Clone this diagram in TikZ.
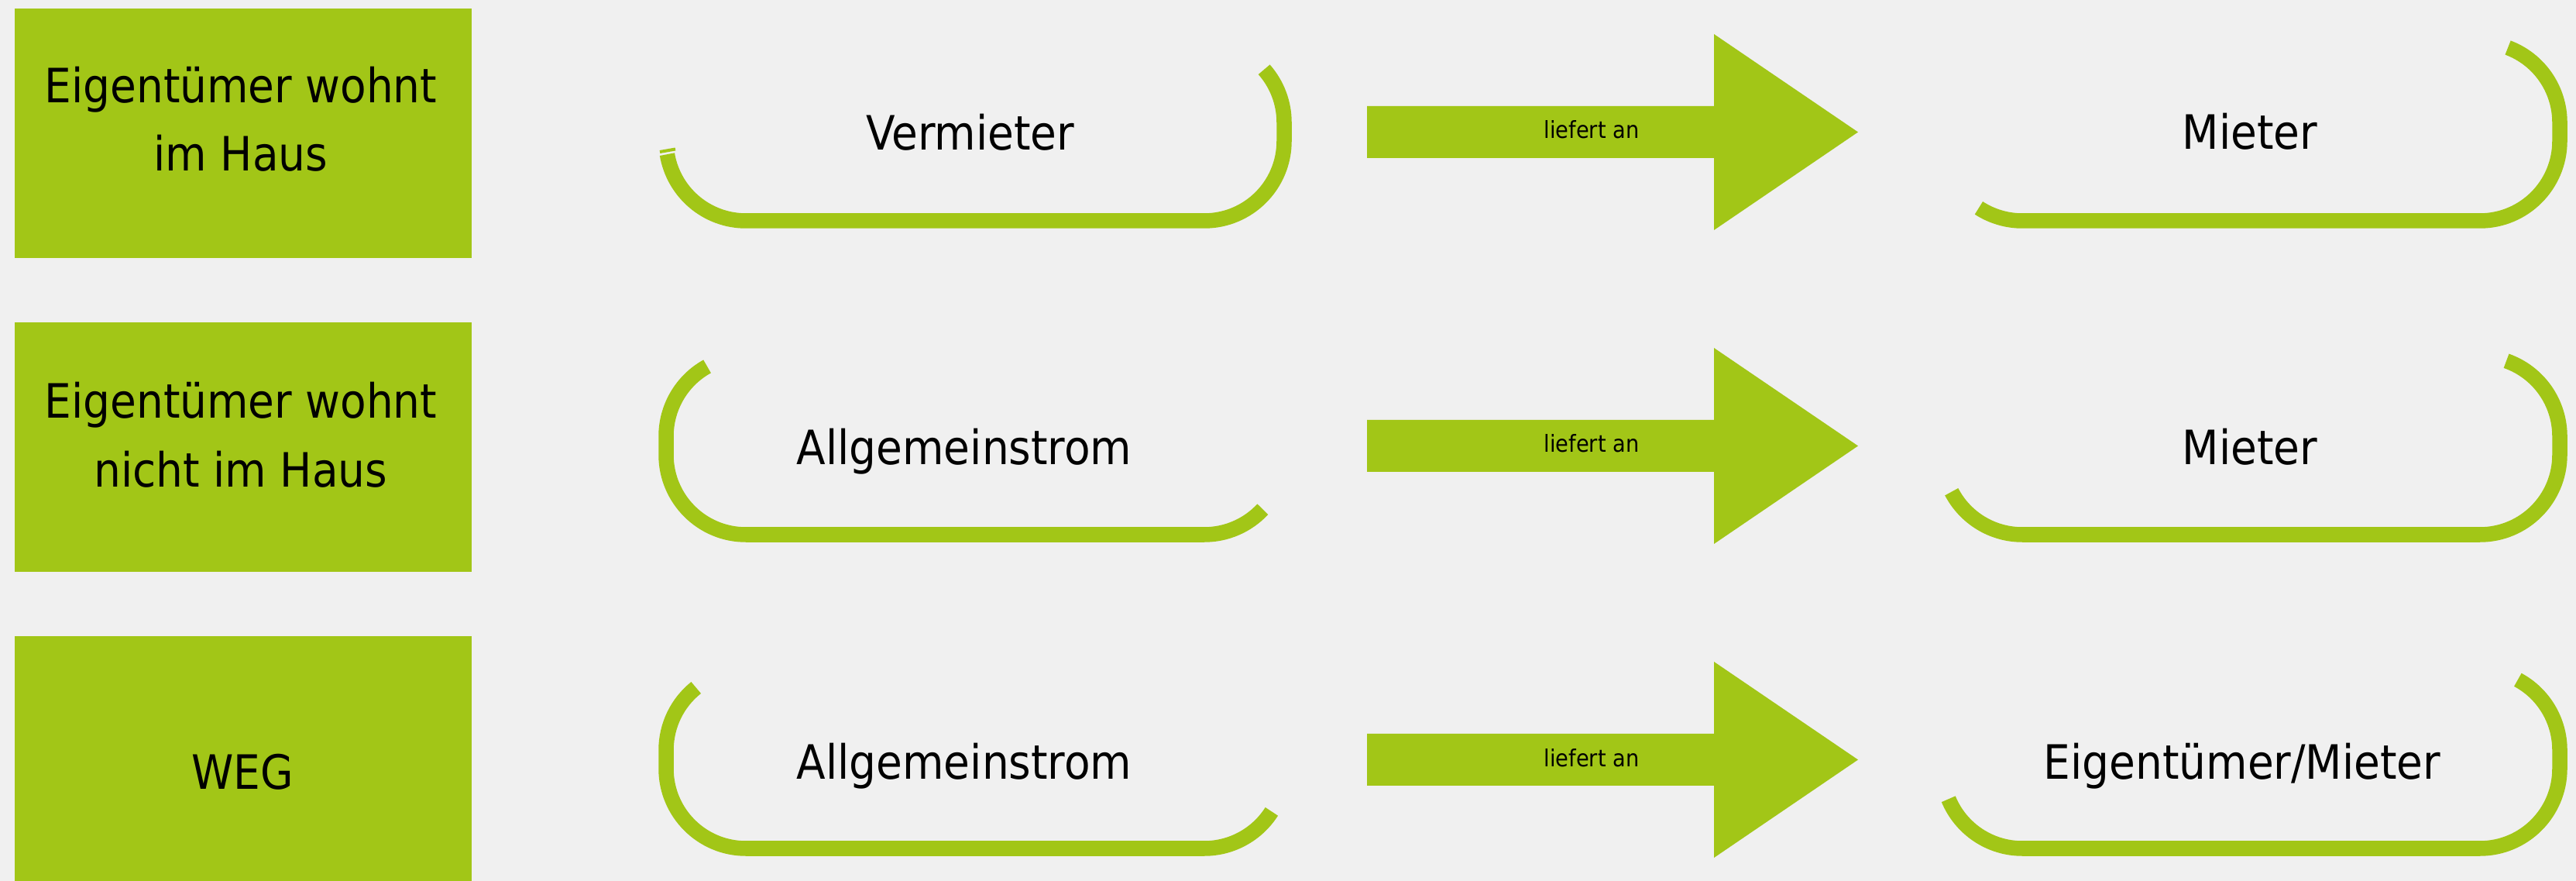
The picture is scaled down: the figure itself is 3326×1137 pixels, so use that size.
\documentclass[tikz,border=0pt]{standalone}
\usepackage{fontspec}
\setmainfont{DejaVu Sans Condensed}
\definecolor{grn}{HTML}{A2C617}
\definecolor{bgc}{HTML}{F0F0F0}
\begin{document}
\begin{tikzpicture}[x=0.01cm, y=-0.01cm,
  gbox/.style={fill=grn, draw=none, minimum width=5.9cm, minimum height=3.22cm, inner sep=0pt},
  bigtxt/.style={font=\fontsize{17.36}{20}\selectfont, inner sep=0pt, anchor=base, text=black},
  smalltxt/.style={font=\fontsize{8.6}{10}\selectfont, inner sep=0pt, anchor=base, text=black},
  brk/.style={draw=grn, line width=0.195cm},
  arr/.style={fill=grn, draw=none}]
\useasboundingbox (0,0) rectangle (3326,1137);
\fill[bgc] (0,0) rectangle (3326,1137);

% left boxes
\node[gbox] (box1) at (314,172) {};
\node[gbox] (box2) at (314,577) {};
\node[gbox] (box3) at (314,982) {};
\node[bigtxt] (b1a) at (311,133) {Eigentümer wohnt};
\node[bigtxt] (b1b) at (311,221) {im Haus};
\node[bigtxt] (b2a) at (311,540) {Eigentümer wohnt};
\node[bigtxt] (b2b) at (311,629) {nicht im Haus};
\node[bigtxt] (b3a) at (313,1018) {WEG};

% arrows
\foreach \d in {0,405,810}{
  \fill[arr] (1765,137+\d) -- (2213,137+\d) -- (2213,44+\d) -- (2399,170.5+\d) -- (2213,297+\d) -- (2213,204+\d) -- (1765,204+\d) -- cycle;
}
\node[smalltxt] (l1) at (2055,179) {liefert an};
\node[smalltxt] (l2) at (2055,584) {liefert an};
\node[smalltxt] (l3) at (2055,989) {liefert an};

% row 1 brackets
\draw[brk] ([shift={(170.4:103)}]963,182) arc[start angle=170.4, end angle=90, radius=103]
  -- (1555,285) arc[start angle=90, end angle=0, radius=103]
  -- (1658,158) arc[start angle=0, end angle=-41.5, radius=103];
\draw[draw=grn, line width=0.04cm] (852,196) -- (872,192.5);
\draw[brk] ([shift={(123:103)}]2611,182) arc[start angle=123, end angle=90, radius=103]
  -- (3202,285) arc[start angle=90, end angle=0, radius=103]
  -- (3305,158) arc[start angle=0, end angle=-69.5, radius=103];
\node[bigtxt] (r1a) at (1253,194) {Vermieter};
\node[bigtxt] (r1b) at (2905,193) {Mieter};

% row 2 brackets
\draw[brk] ([shift={(-119:103)}]963,563) arc[start angle=-119, end angle=-180, radius=103]
  -- (860,587) arc[start angle=180, end angle=90, radius=103]
  -- (1555,690) arc[start angle=90, end angle=43, radius=103];
\draw[brk] ([shift={(152.4:103)}]2611,587) arc[start angle=152.4, end angle=90, radius=103]
  -- (3202,690) arc[start angle=90, end angle=0, radius=103]
  -- (3305,563) arc[start angle=0, end angle=-70.7, radius=103];
\node[bigtxt] (r2a) at (1245,600) {Allgemeinstrom};
\node[bigtxt] (r2b) at (2905,600) {Mieter};

% row 3 brackets
\draw[brk] ([shift={(-128.6:103)}]963,968) arc[start angle=-128.6, end angle=-180, radius=103]
  -- (860,992) arc[start angle=180, end angle=90, radius=103]
  -- (1555,1095) arc[start angle=90, end angle=32.5, radius=103];
\draw[brk] ([shift={(157.6:103)}]2611,992) arc[start angle=157.6, end angle=90, radius=103]
  -- (3202,1095) arc[start angle=90, end angle=0, radius=103]
  -- (3305,968) arc[start angle=0, end angle=-61.7, radius=103];
\node[bigtxt] (r3a) at (1245,1006) {Allgemeinstrom};
\node[bigtxt] (r3b) at (2895,1006) {Eigentümer/Mieter};
\end{tikzpicture}
\end{document}
